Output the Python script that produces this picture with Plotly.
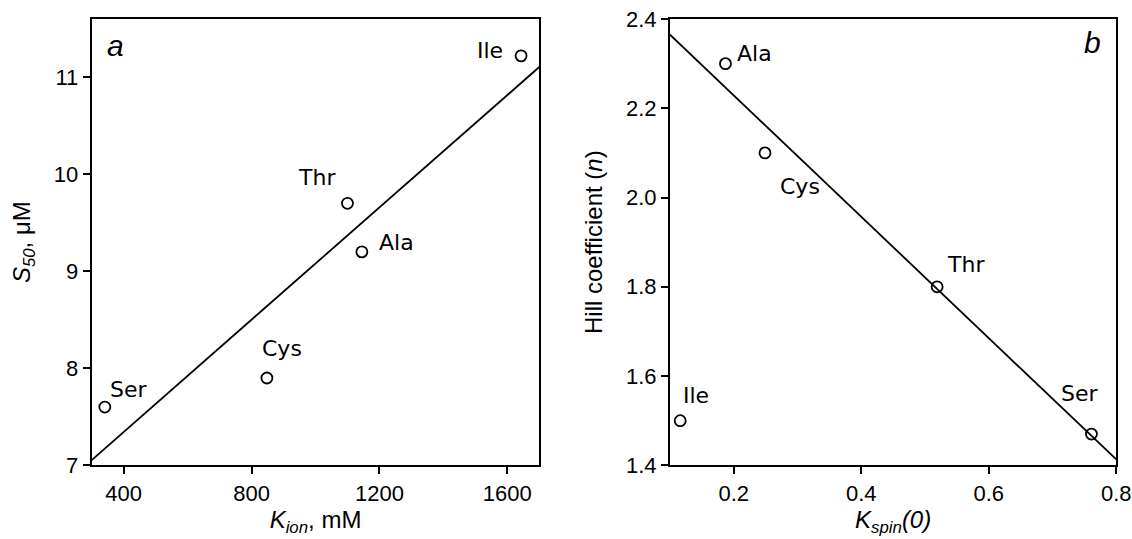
import numpy as np
import plotly.graph_objects as go

# ---- data panel a ----
a_names = ["Ser", "Cys", "Thr", "Ala", "Ile"]
a_kion = [341, 848, 1100, 1145, 1643]
a_s50 = [7.6, 7.9, 9.7, 9.2, 11.22]

# ---- data panel b ----
b_names = ["Ala", "Cys", "Thr", "Ile", "Ser"]
b_kspin = [0.187, 0.249, 0.519, 0.116, 0.761]
b_hill = [2.30, 2.10, 1.80, 1.50, 1.47]
b_in_fit = [True, True, True, False, True]

a_xticks = [400, 800, 1200, 1600]
a_yticks = [7, 8, 9, 10, 11]
b_xticks = [0.2, 0.4, 0.6, 0.8]
b_yticks = [1.4, 1.6, 1.8, 2.0, 2.2, 2.4]

# label offsets (pixels, x right, y up)
a_offsets = {"Ser": (24, 18), "Cys": (15, 29), "Thr": (-30, 26), "Ala": (35, 9), "Ile": (-31, 5)}
b_offsets = {"Ala": (29, 10), "Cys": (35, -34), "Thr": (29, 22), "Ile": (16, 25), "Ser": (-11, 41)}

a_xrange = [300, 1700]
a_yrange = [7, 11.6]
b_xrange = [0.1, 0.8]
b_yrange = [1.4, 2.4]

# regression lines
pa = np.polyfit(a_kion, a_s50, 1)
bx = [x for x, f in zip(b_kspin, b_in_fit) if f]
by = [y for y, f in zip(b_hill, b_in_fit) if f]
pb = np.polyfit(bx, by, 1)
la_x = np.array(a_xrange, dtype=float)
lb_x = np.array(b_xrange, dtype=float)

fig = go.Figure()
line_style = dict(color="black", width=1.8)
marker_style = dict(symbol="circle-open", size=11, color="black", line=dict(width=1.8, color="black"))

fig.add_trace(go.Scatter(x=la_x, y=np.polyval(pa, la_x), mode="lines", line=line_style,
                         xaxis="x", yaxis="y", showlegend=False, hoverinfo="skip"))
fig.add_trace(go.Scatter(x=a_kion, y=a_s50, mode="markers", marker=marker_style,
                         xaxis="x", yaxis="y", showlegend=False, text=a_names))
fig.add_trace(go.Scatter(x=lb_x, y=np.polyval(pb, lb_x), mode="lines", line=line_style,
                         xaxis="x2", yaxis="y2", showlegend=False, hoverinfo="skip"))
fig.add_trace(go.Scatter(x=b_kspin, y=b_hill, mode="markers", marker=marker_style,
                         xaxis="x2", yaxis="y2", showlegend=False, text=b_names))

label_font = dict(family="DejaVu Sans", size=22, color="black")
annotations = []
for n, x, y in zip(a_names, a_kion, a_s50):
    dx, dy = a_offsets[n]
    annotations.append(dict(x=x, y=y, xref="x", yref="y", text=n, showarrow=False,
                            xshift=dx, yshift=dy, font=label_font))
for n, x, y in zip(b_names, b_kspin, b_hill):
    dx, dy = b_offsets[n]
    annotations.append(dict(x=x, y=y, xref="x2", yref="y2", text=n, showarrow=False,
                            xshift=dx, yshift=dy, font=label_font))

letter_font = dict(family="Liberation Sans, Arial", size=30, color="black")
annotations.append(dict(x=115 / 1132, y=1 - 45 / 539, xref="paper", yref="paper", text="<i>a</i>",
                        showarrow=False, font=letter_font, xanchor="center", yanchor="middle"))
annotations.append(dict(x=1092 / 1132, y=1 - 43 / 539, xref="paper", yref="paper", text="<i>b</i>",
                        showarrow=False, font=letter_font, xanchor="center", yanchor="middle"))

tick_font = dict(family="Liberation Sans, Arial", size=22, color="black")
title_font = dict(family="Liberation Sans, Arial", size=24, color="black")
axis_common = dict(showline=True, linecolor="black", linewidth=2, mirror=True,
                   ticks="outside", ticklen=7, tickwidth=2, tickcolor="black",
                   showgrid=False, zeroline=False, tickfont=tick_font, automargin=False)

ydom = [1 - 465.3 / 539, 1 - 19 / 539]
fig.update_layout(
    width=1132, height=539,
    autosize=False,
    margin=dict(l=0, r=0, t=0, b=0, pad=0),
    paper_bgcolor="white", plot_bgcolor="white",
    xaxis=dict(domain=[91.7 / 1132, 539.3 / 1132], range=a_xrange, tickvals=a_xticks,
               title=dict(text="<i>K</i><sub><i>ion</i></sub>, mM", font=title_font, standoff=6),
               anchor="y", **axis_common),
    yaxis=dict(domain=ydom, range=a_yrange, tickvals=a_yticks,
               title=dict(text="<i>S</i><sub><i>50</i></sub>, μM", font=title_font, standoff=16),
               anchor="x", **axis_common),
    xaxis2=dict(domain=[670 / 1132, 1116.3 / 1132], range=b_xrange, tickvals=b_xticks,
                tickformat=".1f",
                title=dict(text="<i>K</i><sub><i>spin</i></sub><i>(0)</i>", font=title_font, standoff=6),
                anchor="y2", **axis_common),
    yaxis2=dict(domain=ydom, range=b_yrange, tickvals=b_yticks, tickformat=".1f",
                title=dict(text="Hill coefficient (<i>n</i>)", font=title_font, standoff=17),
                anchor="x2", **axis_common),
    annotations=annotations,
)

fig.write_html("out.html")
